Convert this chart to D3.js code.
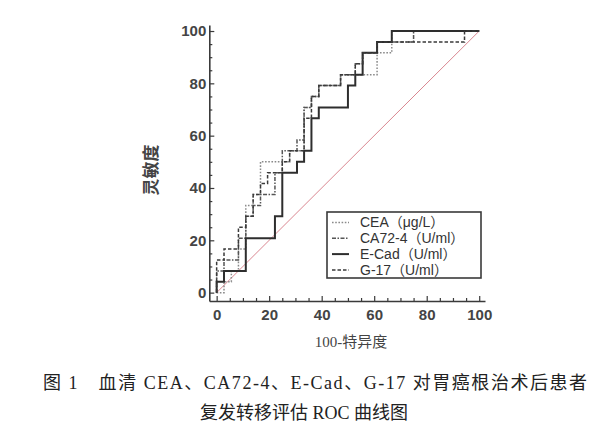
<!DOCTYPE html>
<html>
<head>
<meta charset="utf-8">
<script src="https://cdn.jsdelivr.net/npm/d3@7"></script>
<style>
  body { margin: 0; background: #fff; }
  svg { display: block; }
</style>
</head>
<body>
<div id="chart"></div>
<script>
// ROC operating points: at each x (100-specificity) the curve steps up to y (sensitivity)
var ceaX  = [0, 2.8, 5.6, 8.3, 11.1, 13.9, 16.7, 27.8, 33.3, 36.1, 38.9, 47.2, 61.1, 66.7, 100];
var ceaY  = [0, 4.2, 8.3, 16.7, 33.3, 37.5, 50, 54.2, 70.8, 75, 79.2, 83.3, 91.7, 100, 100];

var ca724X = [0, 0, 2.8, 8.3, 11.1, 13.9, 16.7, 22.2, 25, 30.6, 33.3, 36.1, 38.9, 47.2, 52.8, 55.6, 61.1, 75, 100];
var ca724Y = [0, 8.3, 12.5, 20.8, 29.2, 33.3, 37.5, 45.8, 54.2, 58.3, 70.8, 75, 79.2, 83.3, 87.5, 91.7, 95.8, 100, 100];

var ecadX = [0, 0, 2.8, 11.1, 22.2, 25, 30.6, 33.3, 36.1, 38.9, 50, 52.8, 55.6, 61.1, 66.7, 100];
var ecadY = [0, 4.2, 8.3, 20.8, 29.2, 45.8, 50, 54.2, 66.7, 70.8, 79.2, 83.3, 91.7, 95.8, 100, 100];

var g17X = [0, 0, 2.8, 8.3, 11.1, 13.9, 16.7, 19.4, 25, 27.8, 33.3, 36.1, 38.9, 47.2, 52.8, 55.6, 61.1, 94.4, 100];
var g17Y = [0, 12.5, 16.7, 25, 29.2, 37.5, 41.7, 45.8, 50, 54.2, 66.7, 75, 79.2, 83.3, 87.5, 91.7, 95.8, 100, 100];

var seriesNames = ["CEA（μg/L）", "CA72-4（U/ml）", "E-Cad（U/ml）", "G-17（U/ml）"];
var majorTicks = [0, 20, 40, 60, 80, 100];
var minorTicks = [5, 10, 15, 25, 30, 35, 45, 50, 55, 65, 70, 75, 85, 90, 95];

var width = 609, height = 442;

var svg = d3.select("#chart")
  .append("svg")
  .attr("width", width)
  .attr("height", height);

// axes run a little past 0 and 100 on both ends
var x = d3.scaleLinear().domain([-2.8, 102.2]).range([209.3, 485]);
var y = d3.scaleLinear().domain([-3.2, 102.3]).range([301, 25]);

var axisColor = "#3a3a3a";

// minor ticks
svg.append("g")
  .attr("transform", "translate(" + x.range()[0] + ",0)")
  .call(d3.axisLeft(y).tickValues(minorTicks).tickSize(-3).tickFormat(""))
  .call(function(g) { g.select(".domain").remove(); });
svg.append("g")
  .attr("transform", "translate(0," + y.range()[0] + ")")
  .call(d3.axisBottom(x).tickValues(minorTicks).tickSize(-3).tickFormat(""))
  .call(function(g) { g.select(".domain").remove(); });

// major ticks + labels
var yAxis = svg.append("g")
  .attr("transform", "translate(" + x.range()[0] + ",0)")
  .call(d3.axisLeft(y).tickValues(majorTicks).tickSize(-5).tickSizeOuter(0).tickPadding(3));
var xAxis = svg.append("g")
  .attr("transform", "translate(0," + y.range()[0] + ")")
  .call(d3.axisBottom(x).tickValues(majorTicks).tickSize(-5).tickSizeOuter(0).tickPadding(8));

svg.selectAll(".tick line").attr("stroke", axisColor).attr("stroke-width", 1.2);
svg.selectAll(".domain").attr("stroke", axisColor).attr("stroke-width", 1.6);
svg.selectAll(".tick text")
  .style("font-family", "'Liberation Sans', Arial, sans-serif")
  .style("font-size", "15px")
  .style("font-weight", "bold")
  .style("fill", "#444");

// reference diagonal
svg.append("line")
  .attr("x1", x(0)).attr("y1", y(0))
  .attr("x2", x(100)).attr("y2", y(100))
  .attr("stroke", "#d98690")
  .attr("stroke-width", 1);

var series = [
  { xs: ceaX,   ys: ceaY,   color: "#8a8a8a", width: 1.5, dash: "1.6,1.6" },
  { xs: ca724X, ys: ca724Y, color: "#555",    width: 1.5, dash: "4,1.5,1.5,1.5" },
  { xs: ecadX,  ys: ecadY,  color: "#2e2e2e", width: 2,   dash: null },
  { xs: g17X,   ys: g17Y,   color: "#3a3a3a", width: 1.5, dash: "3.5,2" }
];

var line = d3.line()
  .x(function(d) { return x(d[0]); })
  .y(function(d) { return y(d[1]); })
  .curve(d3.curveStepAfter);

svg.selectAll(".roc")
  .data(series)
  .enter().append("path")
    .attr("class", "roc")
    .attr("d", function(s) { return line(d3.zip(s.xs, s.ys)); })
    .attr("fill", "none")
    .attr("stroke", function(s) { return s.color; })
    .attr("stroke-width", function(s) { return s.width; })
    .attr("stroke-dasharray", function(s) { return s.dash; });

// legend
var legend = svg.append("g");
legend.append("rect")
  .attr("x", 327).attr("y", 212)
  .attr("width", 154).attr("height", 66)
  .attr("fill", "#fff")
  .attr("stroke", axisColor)
  .attr("stroke-width", 1.6);

var rows = legend.selectAll(".row")
  .data(series)
  .enter().append("g")
    .attr("class", "row")
    .attr("transform", function(d, i) { return "translate(0," + (222.5 + i * 15.8) + ")"; });

rows.append("line")
  .attr("x1", 332).attr("x2", 349)
  .attr("stroke", function(s) { return s.color; })
  .attr("stroke-width", function(s) { return s.width; })
  .attr("stroke-dasharray", function(s) { return s.dash; });

rows.append("text")
  .attr("x", 360)
  .attr("dy", "0.35em")
  .text(function(d, i) { return seriesNames[i]; })
  .style("font-family", "'Liberation Sans', Arial, 'Noto Sans CJK SC', sans-serif")
  .style("font-size", "14px")
  .style("fill", "#333");

// axis titles
svg.append("text")
  .attr("transform", "translate(157,170) rotate(-90)")
  .attr("text-anchor", "middle")
  .text("灵敏度")
  .style("font-family", "'Noto Sans CJK SC', sans-serif")
  .style("font-size", "17px")
  .style("font-weight", "bold")
  .style("fill", "#444");

svg.append("text")
  .attr("x", 351).attr("y", 347)
  .attr("text-anchor", "middle")
  .text("100-特异度")
  .style("font-family", "'Liberation Serif', 'Noto Sans CJK SC', serif")
  .style("font-size", "15px")
  .style("fill", "#444");

// figure caption (first line is justified to the full text width)
var caption = svg.append("g")
  .style("font-family", "'Liberation Serif', 'Noto Sans CJK SC', serif")
  .style("font-size", "18px")
  .style("fill", "#222");
caption.append("text")
  .attr("x", 43).attr("y", 389)
  .attr("textLength", 544)
  .attr("lengthAdjust", "spacing")
  .text("图 1　血清 CEA、CA72-4、E-Cad、G-17 对胃癌根治术后患者");
caption.append("text")
  .attr("x", 304).attr("y", 419)
  .attr("text-anchor", "middle")
  .text("复发转移评估 ROC 曲线图");
</script>
</body>
</html>
